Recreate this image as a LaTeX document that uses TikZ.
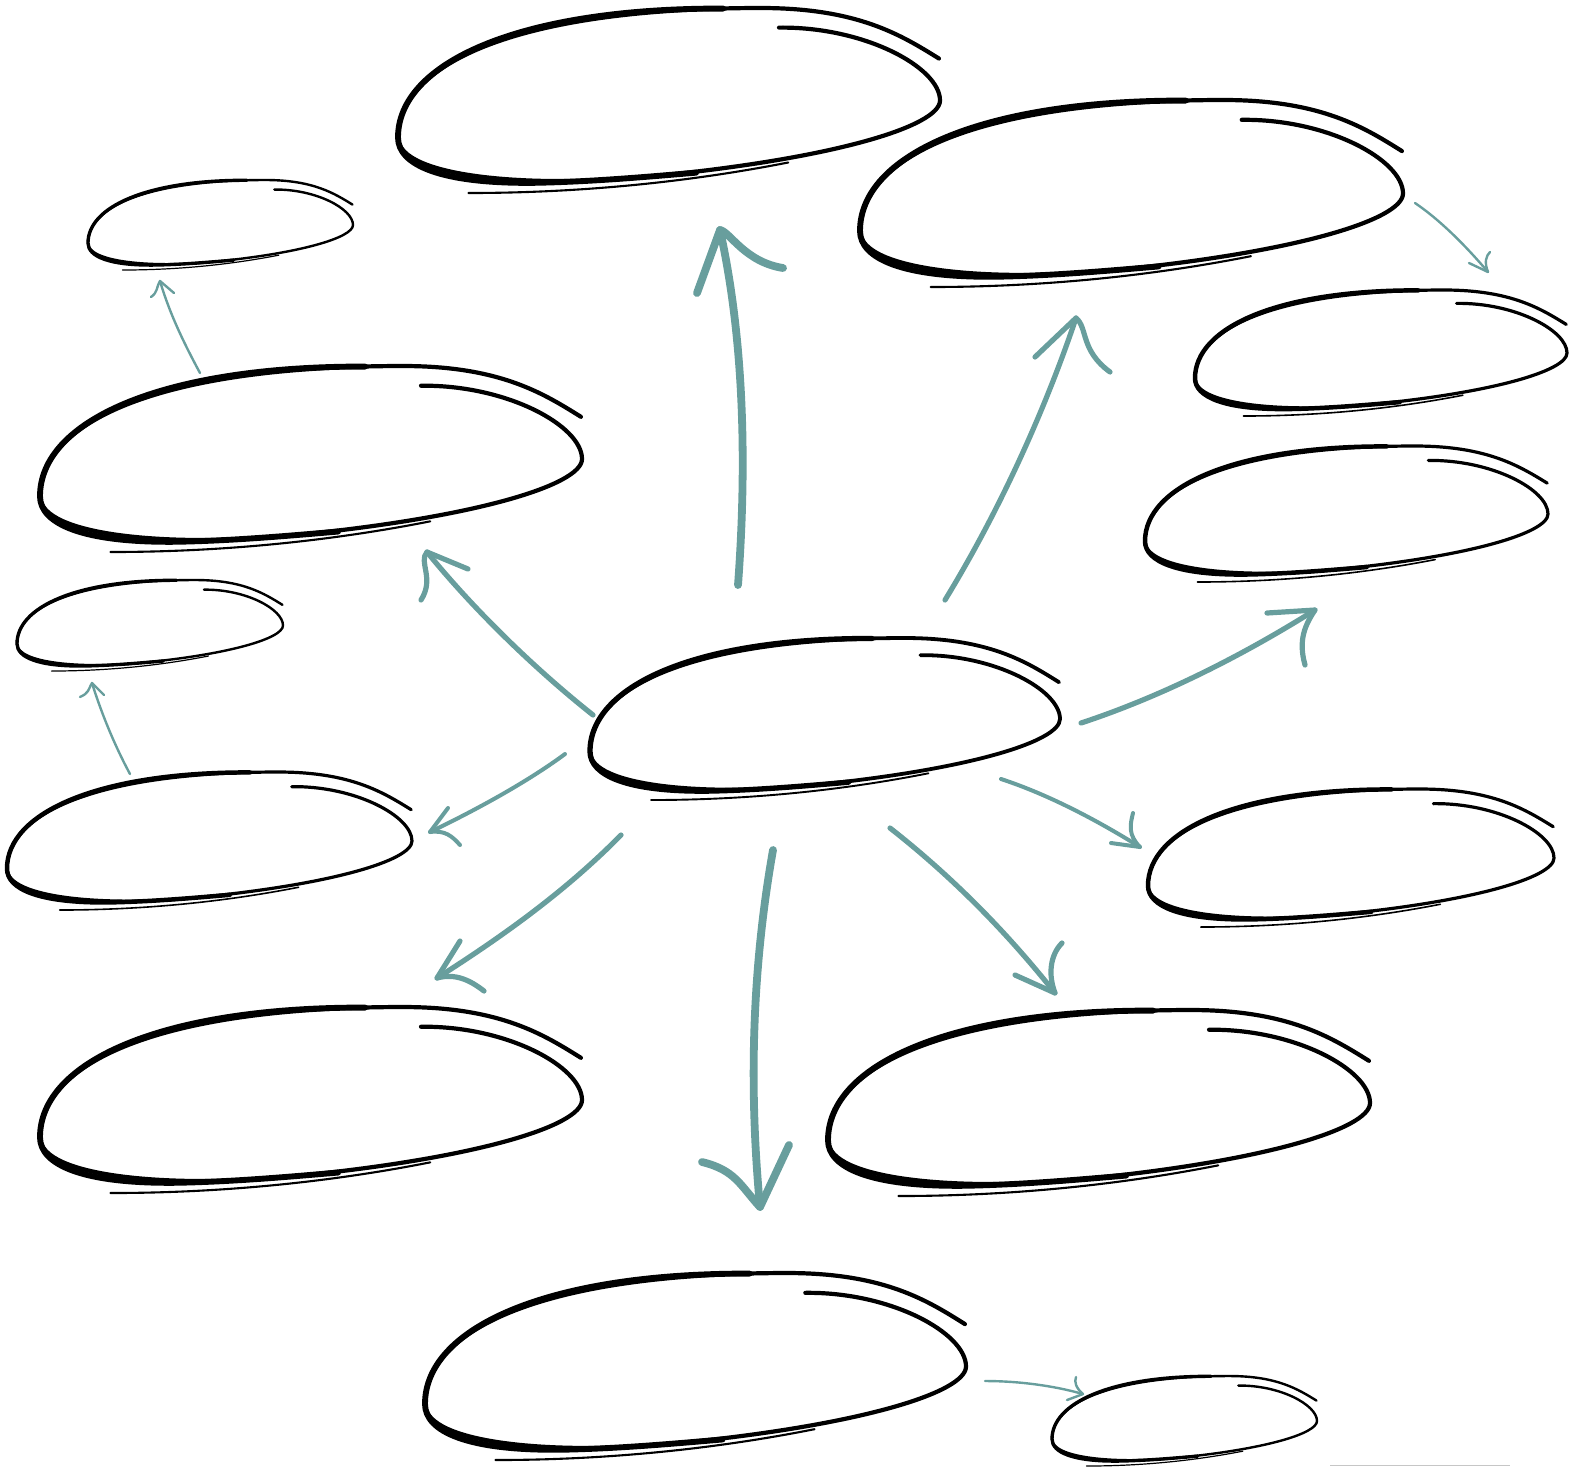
\documentclass[tikz,border=0pt]{standalone}
\definecolor{tealA}{HTML}{689E9D}
\tikzset{
  arrbig/.style={draw=tealA,line width=3.9pt,line cap=round,line join=round},
  arrmid/.style={draw=tealA,line width=2.6pt,line cap=round,line join=round},
  arrthin/.style={draw=tealA,line width=2pt,line cap=round,line join=round},
  arrfine/.style={draw=tealA,line width=1.2pt,line cap=round,line join=round},
}
\newcommand\skel[6]{%
  \coordinate (#1) at ({#2+#4/2},{#3+#5/2});
  \begin{scope}[shift={(#2,#3)},x=#4*0.5pt,y=-#5*0.5pt,line cap=round,line join=round]
    % main spiral loop
    \draw[line width=#6pt]
      (0.703,0.106) .. controls (0.86,0.10) and (1.0,0.32) .. (1.0,0.50)
      .. controls (1.0,0.64) and (0.80,0.82) .. (0.45,0.915)
      .. controls (0.25,0.97) and (0.0,0.92) .. (0,0.70)
      .. controls (0.0,0.30) and (0.22,0.0) .. (0.67,0)
      .. controls (0.85,0.0) and (0.93,0.15) .. (0.998,0.273);
    % heavier left part
    \draw[line width=1.4*#6pt]
      (0.55,0.89) .. controls (0.45,0.915) and (0.35,0.94) .. (0.25,0.945)
      .. controls (0.08,0.95) and (0.0,0.85) .. (0,0.70)
      .. controls (0.0,0.30) and (0.22,0.0) .. (0.60,0.003);
    % extra top stroke
    \draw[line width=0.45*#6pt]
      (0.17,0.20) .. controls (0.25,0.11) and (0.35,0.045) .. (0.48,0.02);
    % extra bottom stroke
    \draw[line width=0.5*#6pt]
      (0.13,1.0) .. controls (0.32,1.0) and (0.52,0.95) .. (0.72,0.835);
  \end{scope}}
\begin{document}
\begin{tikzpicture}[x=0.5pt,y=-0.5pt]
\useasboundingbox (0,0) rectangle (1583,1480);
% sketched ellipses
\skel{e1}{398}{8}{542}{185}{2.1}
\skel{e2}{860}{100}{543}{187}{2.1}
\skel{e3}{88}{180}{265}{90}{1.2}
\skel{e4}{40}{366}{542}{186}{2.1}
\skel{e5}{1195}{290}{372}{126}{1.6}
\skel{e6}{1145}{446}{403}{136}{1.6}
\skel{e7}{17}{580}{266}{91}{1.2}
\skel{e8}{590}{638}{470}{162}{1.9}
\skel{e9}{7}{772}{405}{138}{1.6}
\skel{e10}{1148}{789}{406}{138}{1.6}
\skel{e11}{40}{1007}{542}{186}{2.1}
\skel{e12}{828}{1010}{542}{186}{2.1}
\skel{e13}{425}{1273}{541}{187}{2.1}
\skel{e14}{1052}{1376}{265}{90}{1.2}
% faint line at the lower right edge
\coordinate (g1) at (1330,1465); \coordinate (g2) at (1510,1465);
\draw[gray!45,line width=0.5pt] (g1) -- (g2);
% arrow end points
\coordinate (a1s) at (738,585);  \coordinate (a1t) at (720,230);
\coordinate (a2s) at (945,600);  \coordinate (a2t) at (1076,318);
\coordinate (a3s) at (593,715);  \coordinate (a3t) at (427,552);
\coordinate (a4s) at (1081,723); \coordinate (a4t) at (1315,610);
\coordinate (a5s) at (565,754);  \coordinate (a5t) at (430,832);
\coordinate (a6s) at (621,835);  \coordinate (a6t) at (437,978);
\coordinate (a7s) at (773,850);  \coordinate (a7t) at (760,1207);
\coordinate (a8s) at (890,828);  \coordinate (a8t) at (1055,993);
\coordinate (a9s) at (1001,779); \coordinate (a9t) at (1140,847);
\coordinate (a10s) at (1415,203); \coordinate (a10t) at (1488,272);
\coordinate (a11s) at (200,373);  \coordinate (a11t) at (160,281);
\coordinate (a12s) at (130,774);  \coordinate (a12t) at (92,683);
\coordinate (a13s) at (985,1381); \coordinate (a13t) at (1083,1394);
% A1 up
\draw[arrbig] (a1s) .. controls (748,450) and (742,330) .. (a1t);
\draw[arrbig] (697,293) -- (a1t) .. controls (730,232) and (745,262) .. (783,268);
% A2
\draw[arrmid] (a2s) .. controls (1000,510) and (1045,410) .. (a2t);
\draw[arrmid] (1035,357) -- (a2t) .. controls (1088,328) and (1080,350) .. (1110,372);
% A3
\draw[arrmid] (a3s) .. controls (530,665) and (470,605) .. (a3t);
\draw[arrmid] (468,569) -- (a3t) .. controls (418,562) and (435,578) .. (421,600);
% A4
\draw[arrmid] (a4s) .. controls (1160,697) and (1240,657) .. (a4t);
\draw[arrmid] (1267,613) -- (a4t) .. controls (1305,625) and (1298,640) .. (1305,665);
% A5
\draw[arrthin] (a5s) .. controls (530,780) and (480,808) .. (a5t);
\draw[arrthin] (448,808) -- (a5t) .. controls (445,830) and (452,836) .. (460,845);
% A6
\draw[arrmid] (a6s) .. controls (565,892) and (500,938) .. (a6t);
\draw[arrmid] (460,941) -- (a6t) .. controls (455,973) and (470,980) .. (484,991);
% A7 down
\draw[arrbig] (a7s) .. controls (750,980) and (750,1100) .. (a7t);
\draw[arrbig] (789,1145) -- (a7t) .. controls (740,1185) and (735,1170) .. (702,1162);
% A8
\draw[arrmid] (a8s) .. controls (950,875) and (1005,930) .. (a8t);
\draw[arrmid] (1015,975) -- (a8t) .. controls (1048,975) and (1050,955) .. (1062,943);
% A9
\draw[arrthin] (a9s) .. controls (1050,795) and (1100,822) .. (a9t);
\draw[arrthin] (1111,843) -- (a9t) .. controls (1128,835) and (1130,825) .. (1133,813);
% A10
\draw[arrfine] (a10s) .. controls (1440,220) and (1465,245) .. (a10t);
\draw[arrfine] (1469,263) -- (a10t) .. controls (1484,262) and (1486,256) .. (1490,252);
% A11
\draw[arrfine] (a11s) .. controls (185,345) and (170,315) .. (a11t);
\draw[arrfine] (174,293) -- (a11t) .. controls (156,288) and (158,292) .. (151,297);
% A12
\draw[arrfine] (a12s) .. controls (115,746) and (102,715) .. (a12t);
\draw[arrfine] (104,695) -- (a12t) .. controls (88,690) and (89,693) .. (80,697);
% A13
\draw[arrfine] (a13s) .. controls (1020,1381) and (1055,1386) .. (a13t);
\draw[arrfine] (1067,1400) -- (a13t) .. controls (1076,1388) and (1074,1382) .. (1076,1377);
\end{tikzpicture}
\end{document}
